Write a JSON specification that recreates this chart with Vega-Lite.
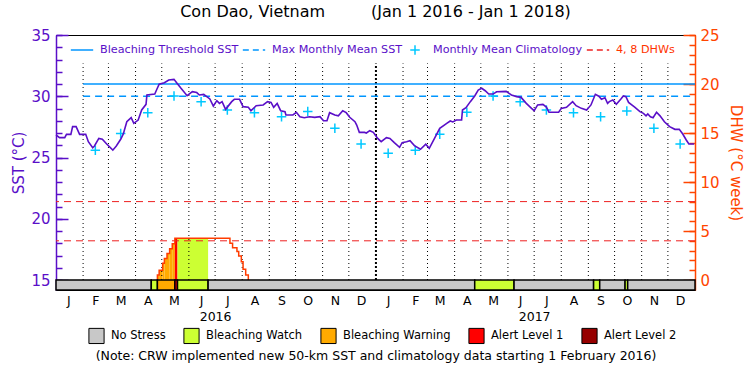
{
  "$schema": "https://vega.github.io/schema/vega-lite/v6.json",
  "width": 639,
  "height": 255,
  "autosize": {"type": "none"},
  "padding": {"left": 56, "top": 35, "right": 55, "bottom": 85},
  "background": "white",
  "title": {
    "text": "Con Dao, Vietnam\u00a0\u00a0\u00a0\u00a0\u00a0\u00a0\u00a0\u00a0\u00a0(Jan 1 2016 - Jan 1 2018)",
    "font": "DejaVu Sans", "fontSize": 16, "fontWeight": "normal", "color": "black",
    "anchor": "middle", "frame": "group", "offset": 8
  },
  "config": {
    "view": {"stroke": "black", "strokeWidth": 1},
    "legend": {"padding": 0}
  },
  "datasets": {
    "sst": [
      {"date":"2016-01-01","sst":26.84},{"date":"2016-01-05","sst":26.62},{"date":"2016-01-11","sst":26.62},{"date":"2016-01-13","sst":26.89},{"date":"2016-01-18","sst":26.89},{"date":"2016-01-20","sst":27.52},{"date":"2016-01-24","sst":27.52},{"date":"2016-01-28","sst":26.89},{"date":"2016-02-04","sst":26.89},{"date":"2016-02-07","sst":26.29},{"date":"2016-02-12","sst":25.8},{"date":"2016-02-14","sst":25.94},{"date":"2016-02-19","sst":26.56},{"date":"2016-02-23","sst":26.5},{"date":"2016-02-28","sst":26.1},{"date":"2016-03-06","sst":25.6},{"date":"2016-03-10","sst":25.94},{"date":"2016-03-15","sst":26.49},{"date":"2016-03-18","sst":26.92},{"date":"2016-03-22","sst":27.92},{"date":"2016-03-27","sst":28.25},{"date":"2016-03-30","sst":27.79},{"date":"2016-04-04","sst":28.06},{"date":"2016-04-08","sst":28.88},{"date":"2016-04-13","sst":29.34},{"date":"2016-04-14","sst":30.1},{"date":"2016-04-23","sst":30.18},{"date":"2016-04-25","sst":30.51},{"date":"2016-04-28","sst":30.98},{"date":"2016-05-04","sst":31.11},{"date":"2016-05-09","sst":31.33},{"date":"2016-05-15","sst":31.38},{"date":"2016-05-18","sst":31.11},{"date":"2016-05-23","sst":30.65},{"date":"2016-05-30","sst":30.05},{"date":"2016-06-05","sst":30.37},{"date":"2016-06-10","sst":30.3},{"date":"2016-06-13","sst":30.1},{"date":"2016-06-18","sst":30.15},{"date":"2016-06-25","sst":29.78},{"date":"2016-06-29","sst":29.2},{"date":"2016-07-03","sst":29.64},{"date":"2016-07-06","sst":29.42},{"date":"2016-07-09","sst":29.56},{"date":"2016-07-13","sst":28.93},{"date":"2016-07-20","sst":29.56},{"date":"2016-07-23","sst":29.75},{"date":"2016-07-29","sst":29.75},{"date":"2016-08-02","sst":29.15},{"date":"2016-08-08","sst":29.1},{"date":"2016-08-11","sst":28.82},{"date":"2016-08-17","sst":29.23},{"date":"2016-08-25","sst":29.29},{"date":"2016-08-30","sst":29.56},{"date":"2016-09-03","sst":29.5},{"date":"2016-09-06","sst":29.1},{"date":"2016-09-10","sst":29.42},{"date":"2016-09-14","sst":28.82},{"date":"2016-09-19","sst":28.74},{"date":"2016-09-20","sst":28.47},{"date":"2016-09-28","sst":28.47},{"date":"2016-10-02","sst":28.69},{"date":"2016-10-06","sst":28.33},{"date":"2016-10-11","sst":28.25},{"date":"2016-10-17","sst":28.33},{"date":"2016-10-23","sst":28.28},{"date":"2016-10-29","sst":28.33},{"date":"2016-11-02","sst":28.0},{"date":"2016-11-06","sst":28.0},{"date":"2016-11-09","sst":28.66},{"date":"2016-11-15","sst":28.47},{"date":"2016-11-19","sst":28.4},{"date":"2016-11-24","sst":28.82},{"date":"2016-11-28","sst":28.66},{"date":"2016-12-02","sst":28.28},{"date":"2016-12-08","sst":27.92},{"date":"2016-12-10","sst":27.65},{"date":"2016-12-13","sst":27.05},{"date":"2016-12-19","sst":27.05},{"date":"2016-12-21","sst":27.0},{"date":"2016-12-25","sst":27.19},{"date":"2016-12-29","sst":27.05},{"date":"2017-01-03","sst":26.56},{"date":"2017-01-07","sst":26.29},{"date":"2017-01-13","sst":26.62},{"date":"2017-01-17","sst":26.56},{"date":"2017-01-22","sst":26.21},{"date":"2017-01-28","sst":25.83},{"date":"2017-01-31","sst":26.21},{"date":"2017-02-05","sst":26.29},{"date":"2017-02-09","sst":26.37},{"date":"2017-02-14","sst":25.97},{"date":"2017-02-21","sst":25.67},{"date":"2017-02-27","sst":26.08},{"date":"2017-03-03","sst":25.75},{"date":"2017-03-09","sst":26.56},{"date":"2017-03-15","sst":27.38},{"date":"2017-03-23","sst":27.79},{"date":"2017-03-27","sst":27.98},{"date":"2017-03-30","sst":27.9},{"date":"2017-04-03","sst":28.06},{"date":"2017-04-09","sst":28.06},{"date":"2017-04-10","sst":28.88},{"date":"2017-04-14","sst":29.07},{"date":"2017-04-19","sst":29.56},{"date":"2017-04-24","sst":30.02},{"date":"2017-04-28","sst":30.51},{"date":"2017-05-02","sst":30.65},{"date":"2017-05-06","sst":30.45},{"date":"2017-05-10","sst":30.18},{"date":"2017-05-15","sst":30.18},{"date":"2017-05-19","sst":30.37},{"date":"2017-05-30","sst":30.4},{"date":"2017-06-05","sst":30.1},{"date":"2017-06-11","sst":29.97},{"date":"2017-06-16","sst":29.91},{"date":"2017-06-22","sst":29.42},{"date":"2017-06-28","sst":29.01},{"date":"2017-07-01","sst":28.82},{"date":"2017-07-05","sst":29.29},{"date":"2017-07-11","sst":29.34},{"date":"2017-07-15","sst":29.12},{"date":"2017-07-18","sst":28.69},{"date":"2017-07-29","sst":28.69},{"date":"2017-08-01","sst":29.01},{"date":"2017-08-07","sst":29.1},{"date":"2017-08-14","sst":29.56},{"date":"2017-08-18","sst":29.23},{"date":"2017-08-24","sst":29.01},{"date":"2017-08-30","sst":28.88},{"date":"2017-09-04","sst":29.29},{"date":"2017-09-09","sst":30.16},{"date":"2017-09-13","sst":30.0},{"date":"2017-09-16","sst":29.75},{"date":"2017-09-20","sst":29.88},{"date":"2017-09-23","sst":29.42},{"date":"2017-09-25","sst":29.56},{"date":"2017-09-29","sst":29.69},{"date":"2017-10-03","sst":29.34},{"date":"2017-10-08","sst":29.75},{"date":"2017-10-11","sst":30.02},{"date":"2017-10-14","sst":29.97},{"date":"2017-10-17","sst":29.5},{"date":"2017-10-24","sst":29.12},{"date":"2017-10-30","sst":28.74},{"date":"2017-11-03","sst":28.6},{"date":"2017-11-06","sst":28.4},{"date":"2017-11-08","sst":28.55},{"date":"2017-11-11","sst":28.33},{"date":"2017-11-14","sst":28.25},{"date":"2017-11-18","sst":28.69},{"date":"2017-11-22","sst":28.4},{"date":"2017-11-27","sst":27.92},{"date":"2017-12-03","sst":27.52},{"date":"2017-12-09","sst":27.3},{"date":"2017-12-14","sst":27.3},{"date":"2017-12-18","sst":26.92},{"date":"2017-12-22","sst":26.43},{"date":"2017-12-25","sst":26.1},{"date":"2017-12-31","sst":26.1}
    ],
    "clim": [
      {"date":"2016-02-15","sst":25.6,"series":"Monthly Mean Climatology"},{"date":"2016-03-15","sst":26.95,"series":"Monthly Mean Climatology"},{"date":"2016-04-15","sst":28.66,"series":"Monthly Mean Climatology"},{"date":"2016-05-15","sst":30.02,"series":"Monthly Mean Climatology"},{"date":"2016-06-15","sst":29.56,"series":"Monthly Mean Climatology"},{"date":"2016-07-15","sst":28.88,"series":"Monthly Mean Climatology"},{"date":"2016-08-15","sst":28.66,"series":"Monthly Mean Climatology"},{"date":"2016-09-15","sst":28.33,"series":"Monthly Mean Climatology"},{"date":"2016-10-15","sst":28.76,"series":"Monthly Mean Climatology"},{"date":"2016-11-15","sst":27.38,"series":"Monthly Mean Climatology"},{"date":"2016-12-15","sst":26.1,"series":"Monthly Mean Climatology"},
      {"date":"2017-01-15","sst":25.34,"series":"Monthly Mean Climatology"},{"date":"2017-02-15","sst":25.6,"series":"Monthly Mean Climatology"},{"date":"2017-03-15","sst":26.9,"series":"Monthly Mean Climatology"},{"date":"2017-04-15","sst":28.69,"series":"Monthly Mean Climatology"},{"date":"2017-05-15","sst":30.02,"series":"Monthly Mean Climatology"},{"date":"2017-06-15","sst":29.56,"series":"Monthly Mean Climatology"},{"date":"2017-07-15","sst":28.88,"series":"Monthly Mean Climatology"},{"date":"2017-08-15","sst":28.66,"series":"Monthly Mean Climatology"},{"date":"2017-09-15","sst":28.33,"series":"Monthly Mean Climatology"},{"date":"2017-10-15","sst":28.8,"series":"Monthly Mean Climatology"},{"date":"2017-11-15","sst":27.38,"series":"Monthly Mean Climatology"},{"date":"2017-12-15","sst":26.1,"series":"Monthly Mean Climatology"}
    ],
    "thr": [{"start":"2016-02-01","end":"2018-01-01","v":31.0,"series":"Bleaching Threshold SST"}],
    "mmm": [{"start":"2016-02-01","end":"2018-01-01","v":30.0,"series":"Max Monthly Mean SST"}],
    "dhwref": [{"v":4,"series":"4, 8 DHWs"},{"v":8,"series":"4, 8 DHWs"}],
    "dhwline": [
      {"date":"2016-04-26","dhw":0,"o":0},{"date":"2016-04-26","dhw":0.5,"o":1},{"date":"2016-04-28","dhw":1.0,"o":2},{"date":"2016-05-02","dhw":1.7,"o":3},{"date":"2016-05-04","dhw":2.2,"o":4},{"date":"2016-05-07","dhw":2.7,"o":5},{"date":"2016-05-10","dhw":3.2,"o":6},{"date":"2016-05-13","dhw":3.7,"o":7},{"date":"2016-05-16","dhw":4.25,"o":8},{"date":"2016-07-18","dhw":3.74,"o":9},{"date":"2016-07-21","dhw":3.3,"o":10},{"date":"2016-07-26","dhw":2.9,"o":11},{"date":"2016-07-28","dhw":2.45,"o":12},{"date":"2016-07-31","dhw":1.87,"o":13},{"date":"2016-08-02","dhw":1.1,"o":14},{"date":"2016-08-05","dhw":0.5,"o":15},{"date":"2016-08-08","dhw":0,"o":16}
    ],
    "dhwfill": [
      {"start":"2016-04-26","end":"2016-04-28","dhw":0.5,"status":"Bleaching Warning"},{"start":"2016-04-28","end":"2016-05-02","dhw":1.0,"status":"Bleaching Warning"},{"start":"2016-05-02","end":"2016-05-04","dhw":1.7,"status":"Bleaching Warning"},{"start":"2016-05-04","end":"2016-05-07","dhw":2.2,"status":"Bleaching Warning"},{"start":"2016-05-07","end":"2016-05-10","dhw":2.7,"status":"Bleaching Warning"},{"start":"2016-05-10","end":"2016-05-13","dhw":3.2,"status":"Bleaching Warning"},{"start":"2016-05-13","end":"2016-05-16","dhw":3.7,"status":"Bleaching Warning"},{"start":"2016-05-16","end":"2016-05-19","dhw":4.25,"status":"Alert Level 1"},{"start":"2016-05-19","end":"2016-06-23","dhw":4.25,"status":"Bleaching Watch"}
    ],
    "status": [
      {"start":"2016-01-01","end":"2016-04-19","status":"No Stress"},{"start":"2016-04-19","end":"2016-04-26","status":"Bleaching Watch"},{"start":"2016-04-26","end":"2016-05-16","status":"Bleaching Warning"},{"start":"2016-05-16","end":"2016-05-19","status":"Alert Level 1"},{"start":"2016-05-19","end":"2016-06-23","status":"Bleaching Watch"},{"start":"2016-06-23","end":"2017-04-24","status":"No Stress"},{"start":"2017-04-24","end":"2017-06-08","status":"Bleaching Watch"},{"start":"2017-06-08","end":"2017-09-07","status":"No Stress"},{"start":"2017-09-07","end":"2017-09-14","status":"Bleaching Watch"},{"start":"2017-09-14","end":"2017-10-13","status":"No Stress"},{"start":"2017-10-13","end":"2017-10-16","status":"Bleaching Watch"},{"start":"2017-10-16","end":"2018-01-01","status":"No Stress"}
    ],
    "months": [
      {"date":"2016-02-01"},{"date":"2016-03-01"},{"date":"2016-04-01"},{"date":"2016-05-01"},{"date":"2016-06-01"},{"date":"2016-07-01"},{"date":"2016-08-01"},{"date":"2016-09-01"},{"date":"2016-10-01"},{"date":"2016-11-01"},{"date":"2016-12-01"},
      {"date":"2017-02-01"},{"date":"2017-03-01"},{"date":"2017-04-01"},{"date":"2017-05-01"},{"date":"2017-06-01"},{"date":"2017-07-01"},{"date":"2017-08-01"},{"date":"2017-09-01"},{"date":"2017-10-01"},{"date":"2017-11-01"},{"date":"2017-12-01"}
    ],
    "years": [{"date":"2017-01-01"}]
  },
  "resolve": {"scale": {"y": "independent"}, "axis": {"x": "independent"}},
  "layer": [
    {
      "data": {"name": "dhwfill"},
      "mark": {"type": "rect"},
      "encoding": {
        "x": {"field": "start", "type": "temporal", "scale": {"type": "utc", "domain": [{"year":2016,"month":1,"date":1,"utc":true},{"year":2018,"month":1,"date":1,"utc":true}]}, "axis": null},
        "x2": {"field": "end"},
        "y": {"field": "dhw", "type": "quantitative", "scale": {"domain": [-1.0204, 25], "nice": false, "zero": false}, "axis": null},
        "y2": {"datum": 0},
        "fill": {"field": "status", "type": "nominal", "scale": {"domain": ["No Stress","Bleaching Watch","Bleaching Warning","Alert Level 1","Alert Level 2"], "range": ["#c8c8c8","#ccff33","#ffaa00","#ff0000","#960000"]}}
      }
    },
    {
      "data": {"name": "months"},
      "mark": {"type": "rule", "color": "black", "strokeWidth": 1, "strokeDash": [1, 3]},
      "encoding": {
        "x": {"field": "date", "type": "temporal", "scale": {"type": "utc", "domain": [{"year":2016,"month":1,"date":1,"utc":true},{"year":2018,"month":1,"date":1,"utc":true}]},
          "axis": {
            "orient": "bottom",
            "values": [
              {"year":2016,"month":1,"date":15,"utc":true},{"year":2016,"month":2,"date":15,"utc":true},{"year":2016,"month":3,"date":15,"utc":true},{"year":2016,"month":4,"date":15,"utc":true},{"year":2016,"month":5,"date":15,"utc":true},{"year":2016,"month":6,"date":15,"utc":true},{"year":2016,"month":7,"date":1,"utc":true},{"year":2016,"month":7,"date":15,"utc":true},{"year":2016,"month":8,"date":15,"utc":true},{"year":2016,"month":9,"date":15,"utc":true},{"year":2016,"month":10,"date":15,"utc":true},{"year":2016,"month":11,"date":15,"utc":true},{"year":2016,"month":12,"date":15,"utc":true},
              {"year":2017,"month":1,"date":15,"utc":true},{"year":2017,"month":2,"date":15,"utc":true},{"year":2017,"month":3,"date":15,"utc":true},{"year":2017,"month":4,"date":15,"utc":true},{"year":2017,"month":5,"date":15,"utc":true},{"year":2017,"month":6,"date":15,"utc":true},{"year":2017,"month":7,"date":1,"utc":true},{"year":2017,"month":7,"date":15,"utc":true},{"year":2017,"month":8,"date":15,"utc":true},{"year":2017,"month":9,"date":15,"utc":true},{"year":2017,"month":10,"date":15,"utc":true},{"year":2017,"month":11,"date":15,"utc":true},{"year":2017,"month":12,"date":15,"utc":true}
            ],
            "labelExpr": "utcdate(datum.value) == 1 ? ['', utcFormat(datum.value, '%Y')] : substring(utcFormat(datum.value, '%b'), 0, 1)",
            "ticks": false, "domain": false, "grid": false,
            "labelFont": "DejaVu Sans", "labelFontSize": 12.5, "labelColor": "black",
            "labelPadding": 4, "labelLineHeight": 16, "labelOverlap": false, "labelFlush": false, "labelBaseline": "top",
            "title": "(Note: CRW implemented new 50-km SST and climatology data starting 1 February 2016)",
            "titleFont": "DejaVu Sans", "titleFontSize": 12.5, "titleFontWeight": "normal", "titleColor": "black",
            "titlePadding": 27
          }
        },
        "y": {"datum": 0, "type": "quantitative", "scale": {"domain": [-1.0204, 25], "nice": false, "zero": false}, "axis": null},
        "y2": {"datum": 22.1}
      }
    },
    {
      "data": {"name": "years"},
      "mark": {"type": "rule", "color": "black", "strokeWidth": 2, "strokeDash": [2, 2]},
      "encoding": {
        "x": {"field": "date", "type": "temporal", "scale": {"type": "utc", "domain": [{"year":2016,"month":1,"date":1,"utc":true},{"year":2018,"month":1,"date":1,"utc":true}]}, "axis": null},
        "y": {"datum": 0, "type": "quantitative", "scale": {"domain": [-1.0204, 25], "nice": false, "zero": false}, "axis": null},
        "y2": {"datum": 22.1}
      }
    },
    {
      "data": {"name": "dhwref"},
      "mark": {"type": "rule", "strokeWidth": 1, "strokeDash": [7, 5]},
      "encoding": {
        "y": {"field": "v", "type": "quantitative", "scale": {"domain": [-1.0204, 25], "nice": false, "zero": false},
          "axis": {"orient": "right", "values": [0,1,2,3,4,5,6,7,8,9,10,11,12,13,14,15,16,17,18,19,20,21,22,23,24,25], "tickSize": -6, "tickColor": "#ff4500", "tickWidth": 1.5, "labels": false, "domain": true, "domainColor": "#ff4500", "domainWidth": 1.5, "grid": false, "title": null}},
        "stroke": {"field": "series", "type": "nominal",
          "scale": {"domain": ["Bleaching Threshold SST","Max Monthly Mean SST","Monthly Mean Climatology","4, 8 DHWs"], "range": ["#0096ff","#0096ff","#00c8ff","#ee2020"]},
          "legend": {
            "orient": "none", "legendX": 14, "legendY": 3, "direction": "horizontal", "title": null,
            "gridAlign": "none",
            "symbolType": "stroke", "symbolSize": 500, "symbolStrokeWidth": 1.5,
            "labelFont": "DejaVu Sans", "labelFontSize": 11.2, "labelColor": "#5a0fc8",
            "labelOffset": 6, "columnPadding": 0,
            "encode": {
              "symbols": {"update": {
                "shape": {"signal": "datum.value === 'Monthly Mean Climatology' ? 'M-1,0L1,0M0,-1L0,1' : 'stroke'"},
                "strokeDash": {"signal": "(datum.value === 'Max Monthly Mean SST' || datum.value === '4, 8 DHWs') ? [6, 4] : [1, 0]"},
                "size": {"signal": "datum.value === 'Monthly Mean Climatology' ? 90 : 500"},
                "fill": {"value": "transparent"},
                "strokeWidth": {"value": 1.5}
              }},
              "labels": {"update": {"fill": {"signal": "datum.value === '4, 8 DHWs' ? '#ff3300' : '#5a0fc8'"}}}
            }
          }
        }
      }
    },
    {
      "data": {"name": "thr"},
      "mark": {"type": "rule", "strokeWidth": 1.3},
      "encoding": {
        "x": {"field": "start", "type": "temporal", "scale": {"type": "utc", "domain": [{"year":2016,"month":1,"date":1,"utc":true},{"year":2018,"month":1,"date":1,"utc":true}]}, "axis": null},
        "x2": {"field": "end"},
        "y": {"field": "v", "type": "quantitative", "scale": {"domain": [14.1837, 35], "nice": false, "zero": false}, "axis": null},
        "stroke": {"field": "series", "type": "nominal", "scale": {"domain": ["Bleaching Threshold SST","Max Monthly Mean SST","Monthly Mean Climatology","4, 8 DHWs"], "range": ["#0096ff","#0096ff","#00c8ff","#ee2020"]}}
      }
    },
    {
      "data": {"name": "mmm"},
      "mark": {"type": "rule", "strokeWidth": 1.3, "strokeDash": [7, 5]},
      "encoding": {
        "x": {"field": "start", "type": "temporal", "scale": {"type": "utc", "domain": [{"year":2016,"month":1,"date":1,"utc":true},{"year":2018,"month":1,"date":1,"utc":true}]}, "axis": null},
        "x2": {"field": "end"},
        "y": {"field": "v", "type": "quantitative", "scale": {"domain": [14.1837, 35], "nice": false, "zero": false}, "axis": null},
        "stroke": {"field": "series", "type": "nominal", "scale": {"domain": ["Bleaching Threshold SST","Max Monthly Mean SST","Monthly Mean Climatology","4, 8 DHWs"], "range": ["#0096ff","#0096ff","#00c8ff","#ee2020"]}}
      }
    },
    {
      "data": {"name": "dhwline"},
      "mark": {"type": "line", "interpolate": "step-after", "color": "#ff3c00", "strokeWidth": 1.5},
      "encoding": {
        "x": {"field": "date", "type": "temporal", "scale": {"type": "utc", "domain": [{"year":2016,"month":1,"date":1,"utc":true},{"year":2018,"month":1,"date":1,"utc":true}]}, "axis": null},
        "y": {"field": "dhw", "type": "quantitative", "scale": {"domain": [-1.0204, 25], "nice": false, "zero": false},
          "axis": {"orient": "right", "values": [0,5,10,15,20,25], "tickSize": -12, "tickColor": "#ff4500", "tickWidth": 1.5, "labelPadding": 17, "labelColor": "#ff4500", "labelFont": "DejaVu Sans", "labelFontSize": 15, "domain": false, "grid": false,
            "title": "DHW (°C week)", "titleColor": "#ff4500", "titleFont": "DejaVu Sans", "titleFontSize": 15, "titleFontWeight": "normal", "titlePadding": 8}},
        "order": {"field": "o", "type": "quantitative"}
      }
    },
    {
      "data": {"name": "status"},
      "mark": {"type": "rect", "stroke": "black", "strokeWidth": 1.5},
      "encoding": {
        "x": {"field": "start", "type": "temporal", "scale": {"type": "utc", "domain": [{"year":2016,"month":1,"date":1,"utc":true},{"year":2018,"month":1,"date":1,"utc":true}]}, "axis": null},
        "x2": {"field": "end"},
        "y": {"datum": -1.0204, "type": "quantitative", "scale": {"domain": [-1.0204, 25], "nice": false, "zero": false}, "axis": null},
        "y2": {"datum": 0},
        "fill": {"field": "status", "type": "nominal",
          "scale": {"domain": ["No Stress","Bleaching Watch","Bleaching Warning","Alert Level 1","Alert Level 2"], "range": ["#c8c8c8","#ccff33","#ffaa00","#ff0000","#960000"]},
          "legend": {"orient": "none", "legendX": 32, "legendY": 292, "direction": "horizontal", "title": null,
            "symbolType": "square", "symbolSize": 230, "symbolStrokeColor": "black", "symbolStrokeWidth": 1, "symbolOpacity": 1,
            "labelFont": "DejaVu Sans", "labelFontSize": 11.5, "labelColor": "black", "labelOffset": 6, "columnPadding": 15}}
      }
    },
    {
      "data": {"name": "clim"},
      "mark": {"type": "point", "shape": "M-1,0L1,0M0,-1L0,1", "filled": false, "size": 90, "strokeWidth": 1.5, "opacity": 1},
      "encoding": {
        "x": {"field": "date", "type": "temporal", "scale": {"type": "utc", "domain": [{"year":2016,"month":1,"date":1,"utc":true},{"year":2018,"month":1,"date":1,"utc":true}]}, "axis": null},
        "y": {"field": "sst", "type": "quantitative", "scale": {"domain": [14.1837, 35], "nice": false, "zero": false},
          "axis": {"orient": "left", "values": [15,20,25,30,35], "tickSize": -12, "tickColor": "#5a0fc8", "tickWidth": 1.5, "labelPadding": 18, "labelColor": "#5a0fc8", "labelFont": "DejaVu Sans", "labelFontSize": 15, "domain": false, "grid": false,
            "title": "SST (°C)", "titleColor": "#5a0fc8", "titleFont": "DejaVu Sans", "titleFontSize": 15, "titleFontWeight": "normal", "titlePadding": 4}},
        "stroke": {"field": "series", "type": "nominal", "scale": {"domain": ["Bleaching Threshold SST","Max Monthly Mean SST","Monthly Mean Climatology","4, 8 DHWs"], "range": ["#0096ff","#0096ff","#00c8ff","#ee2020"]}}
      }
    },
    {
      "data": {"name": "sst"},
      "mark": {"type": "line", "color": "#5a0fc8", "strokeWidth": 1.6},
      "encoding": {
        "x": {"field": "date", "type": "temporal", "scale": {"type": "utc", "domain": [{"year":2016,"month":1,"date":1,"utc":true},{"year":2018,"month":1,"date":1,"utc":true}]}, "axis": null},
        "y": {"field": "sst", "type": "quantitative", "scale": {"domain": [14.1837, 35], "nice": false, "zero": false},
          "axis": {"orient": "left", "values": [15,16,17,18,19,20,21,22,23,24,25,26,27,28,29,30,31,32,33,34,35], "tickSize": -6, "tickColor": "#5a0fc8", "tickWidth": 1.5, "labels": false, "domain": true, "domainColor": "#5a0fc8", "domainWidth": 1.5, "grid": false, "title": null}}
      }
    }
  ]
}
